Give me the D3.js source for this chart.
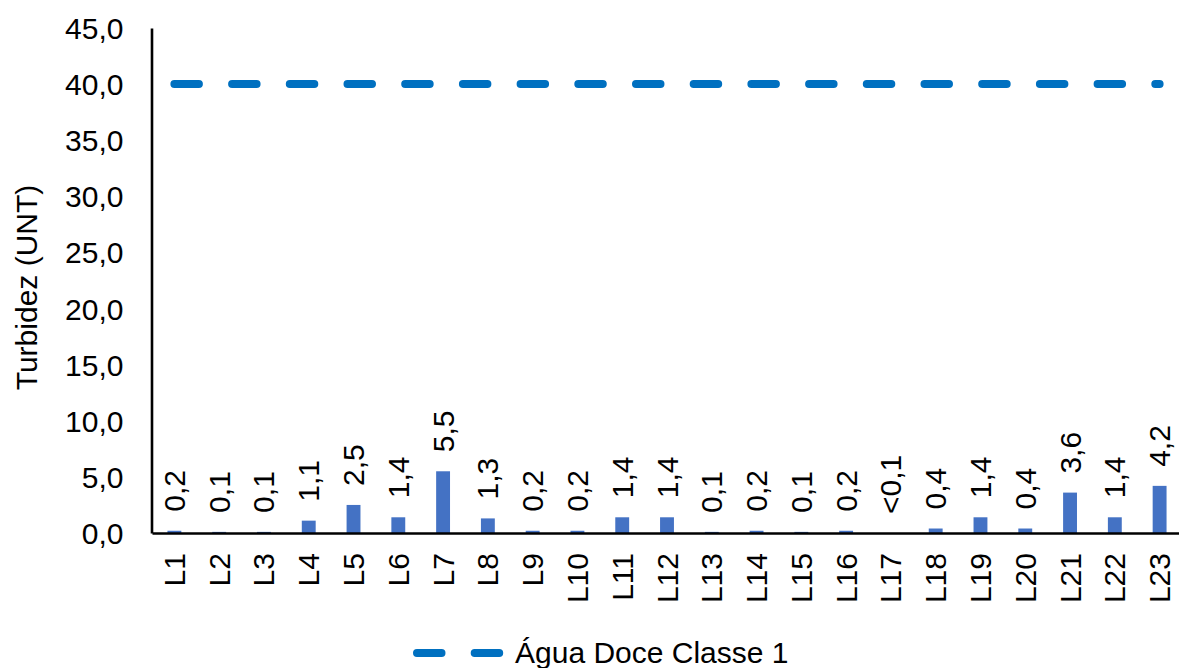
<!DOCTYPE html>
<html>
<head>
<meta charset="utf-8">
<script src="https://cdn.jsdelivr.net/npm/d3@7"></script>
<style>
  html, body { margin: 0; padding: 0; background: #fff; }
  svg { display: block; }
  text { font-family: "Liberation Sans", Arial, sans-serif; fill: #000; }
</style>
</head>
<body>
<svg id="chart" width="1179" height="668"></svg>
<script>
const categories = ["L1","L2","L3","L4","L5","L6","L7","L8","L9","L10","L11","L12","L13","L14","L15","L16","L17","L18","L19","L20","L21","L22","L23"];
const turbidity = [0.2,0.1,0.1,1.1,2.5,1.4,5.5,1.3,0.2,0.2,1.4,1.4,0.1,0.2,0.1,0.2,0.0,0.4,1.4,0.4,3.6,1.4,4.2];
const valueLabels = ["0,2","0,1","0,1","1,1","2,5","1,4","5,5","1,3","0,2","0,2","1,4","1,4","0,1","0,2","0,1","0,2","<0,1","0,4","1,4","0,4","3,6","1,4","4,2"];
const yTicks = [0,5,10,15,20,25,30,35,40,45];
const limitValue = 40;
const limitName = "Água Doce Classe 1";
const yTitle = "Turbidez (UNT)";

const svg = d3.select("#chart");
const fontSize = 30;
const locale = d3.formatLocale({decimal: ",", thousands: ".", grouping: [3], currency: ["", ""]});
const fmt = locale.format(".1f");

const x = d3.scaleBand().domain(categories).range([152, 1182]).paddingInner(0.69).paddingOuter(0.345);
const y = d3.scaleLinear().domain([0, 45]).range([533, 28]);

// Bars
svg.append("g").selectAll("rect").data(categories).join("rect")
  .attr("x", d => x(d))
  .attr("width", x.bandwidth())
  .attr("y", (d, i) => y(turbidity[i]))
  .attr("height", (d, i) => y(0) - y(turbidity[i]))
  .attr("fill", "#4472C4");

// Y axis
const yAxis = svg.append("g").attr("transform", "translate(151.5,0)")
  .call(d3.axisLeft(y).tickValues(yTicks).tickSize(0).tickSizeOuter(0).tickPadding(28).tickFormat(fmt));
yAxis.select(".domain").attr("stroke", "#000").attr("stroke-width", 2.6);
yAxis.selectAll("text").style("font-size", fontSize + "px").attr("dy", "0.35em").attr("fill", "#000");

// X axis
const xAxis = svg.append("g").attr("transform", "translate(0,533)")
  .call(d3.axisBottom(x).tickSize(0).tickSizeOuter(0));
xAxis.select(".domain").attr("stroke", "#000").attr("stroke-width", 2.6);
xAxis.selectAll("text")
  .style("font-size", fontSize + "px")
  .attr("fill", "#000")
  .attr("transform", "rotate(-90)")
  .attr("x", -20).attr("y", 0).attr("dy", "0.35em")
  .style("text-anchor", "end");

// Limit line
const line = d3.line().x(d => x(d) + x.bandwidth() / 2).y(() => y(limitValue));
svg.append("path").datum(categories)
  .attr("d", line)
  .attr("fill", "none")
  .attr("stroke", "#0070C0")
  .attr("stroke-width", 8)
  .attr("stroke-linecap", "round")
  .attr("stroke-dasharray", "24.5 33.2");

// Data labels
svg.append("g").selectAll("g").data(categories).join("g")
  .attr("transform", (d, i) => `translate(${x(d) + x.bandwidth() / 2},${y(turbidity[i])})`)
  .append("text")
  .attr("transform", "rotate(-90)")
  .attr("x", 19).attr("dy", "0.35em")
  .style("text-anchor", "start")
  .style("font-size", fontSize + "px")
  .text((d, i) => valueLabels[i]);

// Y title
svg.append("text")
  .attr("transform", "translate(37,287.5) rotate(-90)")
  .style("text-anchor", "middle")
  .style("font-size", fontSize + "px")
  .text(yTitle);

// Legend
const lg = svg.append("g");
lg.append("line")
  .attr("x1", 417).attr("x2", 501).attr("y1", 653).attr("y2", 653)
  .attr("stroke", "#0070C0").attr("stroke-width", 8)
  .attr("stroke-linecap", "round").attr("stroke-dasharray", "24.5 33.2");
lg.append("text").attr("x", 515).attr("y", 663)
  .style("font-size", fontSize + "px")
  .text(limitName);
</script>
</body>
</html>
